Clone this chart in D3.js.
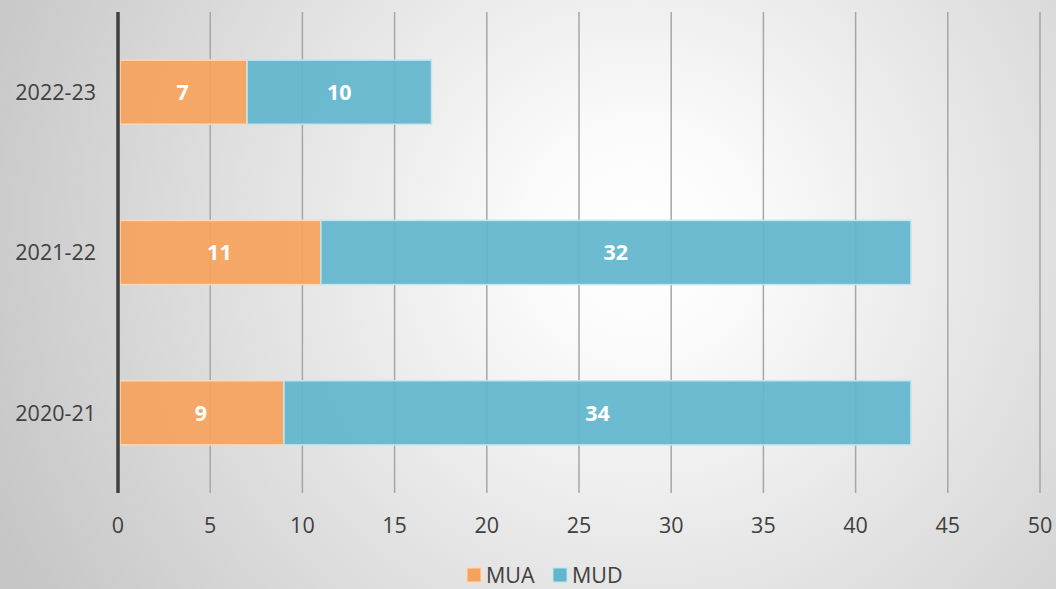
<!DOCTYPE html>
<html><head><meta charset="utf-8">
<script src="https://cdn.jsdelivr.net/npm/d3@7"></script>
<style>html,body{margin:0;padding:0;overflow:hidden;}</style>
</head><body>
<script>
const categories = ["2020-21", "2021-22", "2022-23"];
const seriesNames = ["MUA", "MUD"];
const mua = [9, 11, 7];
const mud = [34, 32, 10];
const xTicks = [0, 5, 10, 15, 20, 25, 30, 35, 40, 45, 50];
const colors = ["#F5A35C", "#62B6CC"];

const W = 1056, H = 589;
const svg = d3.select("body").append("svg").attr("width", W).attr("height", H);
const defs = svg.append("defs");
const rg = defs.append("radialGradient").attr("id", "bg")
  .attr("gradientUnits", "userSpaceOnUse")
  .attr("cx", 640).attr("cy", 240).attr("r", 700);
rg.append("stop").attr("offset", "0").attr("stop-color", "#ffffff");
rg.append("stop").attr("offset", "0.15").attr("stop-color", "#fbfbfb");
rg.append("stop").attr("offset", "1").attr("stop-color", "#c6c6c6");
svg.append("rect").attr("width", W).attr("height", H).attr("fill", "url(#bg)");

const x = d3.scaleLinear().domain([0, 50]).range([118, 1040]);
const y = d3.scaleBand().domain(categories.slice().reverse()).range([12, 493]).paddingInner(0.6).paddingOuter(0.3);

const font = "'Open Sans', 'Noto Sans', sans-serif";
const fs = 21.5;

// gridlines
svg.append("g").selectAll("line").data(xTicks.slice(1)).join("line")
  .attr("x1", d => x(d)).attr("x2", d => x(d))
  .attr("y1", 12).attr("y2", 493)
  .attr("stroke", "#a6a6a6").attr("stroke-width", 1.5);

// bars
const rows = categories.map((c, i) => ({cat: c, vals: [mua[i], mud[i]]}));
const stackData = rows.map(r => {
  let acc = 0;
  return r.vals.map((v, k) => { const s = {cat: r.cat, k, v, x0: acc, x1: acc + v}; acc += v; return s; });
}).flat();

svg.append("g").selectAll("rect").data(stackData).join("rect")
  .attr("x", d => x(d.x0) + (d.k === 0 ? 2 : 0))
  .attr("width", d => x(d.x1) - x(d.x0) - (d.k === 0 ? 2 : 0))
  .attr("y", d => y(d.cat))
  .attr("height", y.bandwidth())
  .attr("fill", d => colors[d.k]).attr("fill-opacity", 0.93)
  .attr("stroke", d => d.k === 0 ? "#fbd9bb" : "#c4e4ee").attr("stroke-width", 1.5);

svg.append("g").selectAll("text").data(stackData).join("text")
  .attr("x", d => (x(d.x0) + x(d.x1)) / 2)
  .attr("y", d => y(d.cat) + y.bandwidth() / 2)
  .attr("dy", "0.36em").attr("text-anchor", "middle")
  .attr("fill", "#ffffff").attr("font-family", font).attr("font-weight", "bold").attr("font-size", fs)
  .text(d => d.v);

// axis line
svg.append("line").attr("x1", x(0)).attr("x2", x(0)).attr("y1", 12).attr("y2", 493)
  .attr("stroke", "#404040").attr("stroke-width", 3.5);

// x tick labels
svg.append("g").selectAll("text").data(xTicks).join("text")
  .attr("x", d => x(d)).attr("y", 525).attr("dy", "0.36em")
  .attr("text-anchor", "middle").attr("fill", "#404040")
  .attr("font-family", font).attr("font-size", fs).text(d => d);

// y labels
svg.append("g").selectAll("text").data(categories).join("text")
  .attr("x", 96).attr("y", d => y(d) + y.bandwidth() / 2).attr("dy", "0.36em")
  .attr("text-anchor", "end").attr("fill", "#404040")
  .attr("font-family", font).attr("font-size", fs).text(d => d);

// legend
const legX = [467, 553];
const lg = svg.append("g").selectAll("g").data(seriesNames).join("g")
  .attr("transform", (d, i) => `translate(${legX[i]},568)`);
lg.append("rect").attr("width", 14).attr("height", 14)
  .attr("fill", (d, i) => colors[i]).attr("stroke", (d, i) => i === 0 ? "#fbd9bb" : "#c4e4ee").attr("stroke-width", 1);
lg.append("text").attr("x", 19).attr("y", 15)
  .attr("fill", "#404040").attr("font-family", font).attr("font-size", fs).text(d => d);
</script>
</body></html>
